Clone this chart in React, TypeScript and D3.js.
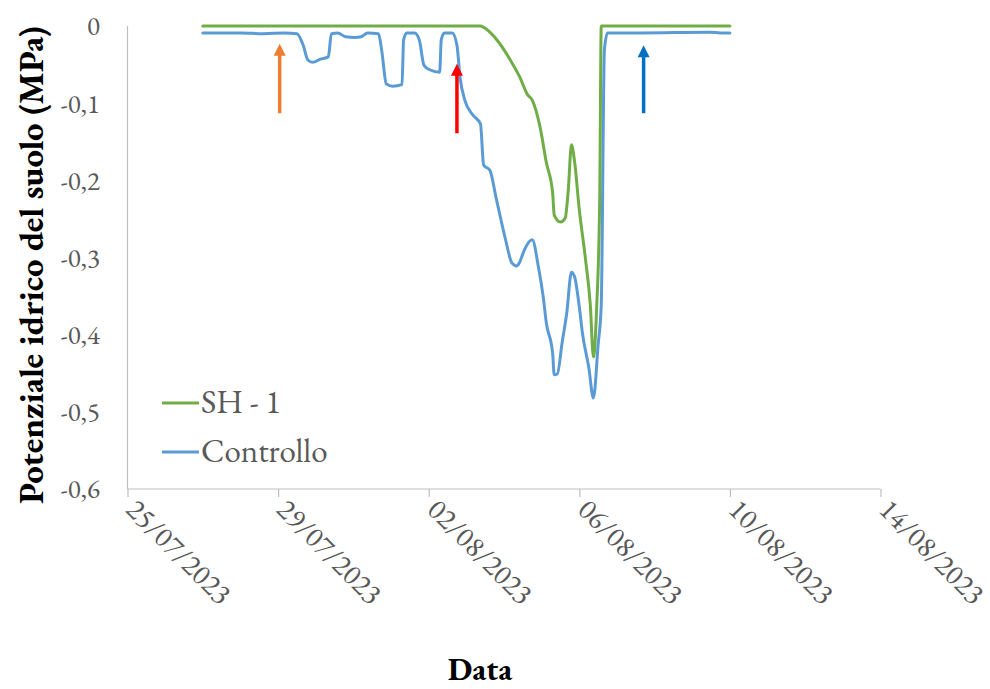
import React, { useEffect, useRef } from 'react';
import * as d3 from 'd3';

// Controllo (blue) series
const controlloTimes = [
  '27/07/2023 00:00', '28/07/2023 00:00', '28/07/2023 15:00', '29/07/2023 04:00', '29/07/2023 12:00',
  '29/07/2023 16:00', '29/07/2023 19:00', '29/07/2023 22:00', '30/07/2023 03:00', '30/07/2023 08:00',
  '30/07/2023 10:00', '30/07/2023 14:00', '30/07/2023 19:00', '31/07/2023 01:00', '31/07/2023 05:00',
  '31/07/2023 09:00', '31/07/2023 16:00', '31/07/2023 18:00', '31/07/2023 21:00', '01/08/2023 01:00',
  '01/08/2023 07:00', '01/08/2023 08:00', '01/08/2023 10:00', '01/08/2023 15:00', '01/08/2023 18:00',
  '01/08/2023 21:00', '02/08/2023 01:00', '02/08/2023 07:00', '02/08/2023 08:00', '02/08/2023 10:00',
  '02/08/2023 15:00', '02/08/2023 18:00', '02/08/2023 20:00', '02/08/2023 23:00', '03/08/2023 04:00',
  '03/08/2023 09:00', '03/08/2023 11:00', '03/08/2023 15:00', '03/08/2023 19:00', '04/08/2023 01:00',
  '04/08/2023 05:00', '04/08/2023 08:00', '04/08/2023 10:00', '04/08/2023 13:00', '04/08/2023 18:00',
  '04/08/2023 22:00', '05/08/2023 01:00', '05/08/2023 03:00', '05/08/2023 07:00', '05/08/2023 08:00',
  '05/08/2023 10:00', '05/08/2023 13:00', '05/08/2023 16:00', '05/08/2023 19:00', '05/08/2023 21:00',
  '06/08/2023 00:00', '06/08/2023 02:00', '06/08/2023 06:00', '06/08/2023 09:00', '06/08/2023 12:00',
  '06/08/2023 14:00', '06/08/2023 16:00', '06/08/2023 18:00', '07/08/2023 15:00', '09/08/2023 11:00',
  '09/08/2023 18:00', '10/08/2023 00:00'
];
const controlloValues = [
  -0.009, -0.009, -0.010, -0.009, -0.010,
  -0.025, -0.044, -0.047, -0.043, -0.040,
  -0.010, -0.009, -0.014, -0.015, -0.014,
  -0.009, -0.010, -0.031, -0.075, -0.078,
  -0.076, -0.018, -0.009, -0.009, -0.018,
  -0.051, -0.057, -0.060, -0.018, -0.009,
  -0.009, -0.025, -0.067, -0.096, -0.115,
  -0.127, -0.180, -0.187, -0.223, -0.277,
  -0.307, -0.311, -0.306, -0.290, -0.277,
  -0.313, -0.351, -0.385, -0.424, -0.452,
  -0.451, -0.411, -0.372, -0.319, -0.325,
  -0.364, -0.398, -0.442, -0.482, -0.413,
  -0.361, -0.031, -0.009, -0.009, -0.008,
  -0.009, -0.009
];

// SH - 1 (green) series
const sh1Times = [
  '27/07/2023 00:00', '03/08/2023 09:00', '03/08/2023 12:00', '03/08/2023 15:00', '03/08/2023 21:00',
  '04/08/2023 04:00', '04/08/2023 10:00', '04/08/2023 15:00', '04/08/2023 18:00', '04/08/2023 23:00',
  '05/08/2023 03:00', '05/08/2023 07:00', '05/08/2023 08:00', '05/08/2023 12:00', '05/08/2023 15:00',
  '05/08/2023 17:00', '05/08/2023 19:00', '05/08/2023 21:00', '06/08/2023 00:00', '06/08/2023 04:00',
  '06/08/2023 07:00', '06/08/2023 09:00', '06/08/2023 11:00', '06/08/2023 13:00', '06/08/2023 14:00',
  '10/08/2023 00:00'
];
const sh1Values = [
  0, 0, -0.003, -0.008, -0.022,
  -0.044, -0.066, -0.089, -0.096, -0.131,
  -0.177, -0.216, -0.245, -0.254, -0.249,
  -0.212, -0.154, -0.176, -0.238, -0.303,
  -0.361, -0.429, -0.368, -0.225, 0,
  0
];

const xTickLabels = ['25/07/2023', '29/07/2023', '02/08/2023', '06/08/2023', '10/08/2023', '14/08/2023'];
const yTicks = [0, -0.1, -0.2, -0.3, -0.4, -0.5, -0.6];

// annotation arrows
const arrowTimes = ['29/07/2023 01:00', '02/08/2023 18:00', '07/08/2023 17:00'];
const arrowTips = [-0.023, -0.049, -0.025];
const arrowTails = [-0.113, -0.139, -0.113];
const arrowColors = ['#ED7D31', '#FF0000', '#0070C0'];

const seriesNames = ['SH - 1', 'Controllo'];
const seriesColors = ['#70AD47', '#5B9BD5'];

const FONT = '"EB Garamond", Garamond, "Liberation Serif", serif';

export default function App() {
  const svgRef = useRef<SVGSVGElement>(null);
  const width = 990;
  const height = 689;

  useEffect(() => {
    if (!svgRef.current) return;
    const svg = d3.select(svgRef.current);
    svg.selectAll('*').remove();

    const parse = d3.timeParse('%d/%m/%Y %H:%M');
    const parseDay = d3.timeParse('%d/%m/%Y');
    const tickDates = xTickLabels.map(s => parseDay(s)!);

    const x = d3.scaleTime()
      .domain([tickDates[0], tickDates[tickDates.length - 1]])
      .range([127.5, 880.5]);
    const y = d3.scaleLinear().domain([0, -0.6]).range([26, 489]);

    // axes
    const xAxis = svg.append('g').attr('transform', `translate(0,${y(-0.6)})`)
      .call(d3.axisBottom(x).tickValues(tickDates).tickSize(8).tickFormat(() => ''));
    xAxis.selectAll('path, line').attr('stroke', '#BFBFBF').attr('stroke-width', 1.2);
    xAxis.select('.domain').attr('d', `M${x.range()[0]},0H${x.range()[1]}`);

    svg.append('line')
      .attr('x1', x.range()[0]).attr('x2', x.range()[0])
      .attr('y1', y(0)).attr('y2', y(-0.6))
      .attr('stroke', '#BFBFBF').attr('stroke-width', 1.2);

    // y tick labels
    svg.append('g').selectAll('text')
      .data(yTicks)
      .enter().append('text')
      .attr('x', 100)
      .attr('y', d => y(d))
      .attr('dy', '0.35em')
      .attr('text-anchor', 'end')
      .attr('font-family', FONT)
      .attr('font-size', 27)
      .attr('fill', '#595959')
      .text(d => (d === 0 ? '0' : d3.format('.1f')(d).replace('.', ',').replace('−', '-')));

    // x tick labels, rotated
    svg.append('g').selectAll('text')
      .data(tickDates)
      .enter().append('text')
      .attr('transform', d => `translate(${x(d) - 3},${y(-0.6) + 22}) rotate(45)`)
      .attr('text-anchor', 'start')
      .attr('font-family', FONT)
      .attr('font-size', 29)
      .attr('fill', '#595959')
      .text((d, i) => xTickLabels[i]);

    // axis titles
    svg.append('text')
      .attr('x', 480)
      .attr('y', 680)
      .attr('text-anchor', 'middle')
      .attr('font-family', FONT)
      .attr('font-size', 32)
      .attr('font-weight', 'bold')
      .attr('fill', '#000')
      .text('Data');

    svg.append('text')
      .attr('transform', `translate(43,265) rotate(-90)`)
      .attr('text-anchor', 'middle')
      .attr('font-family', FONT)
      .attr('font-size', 35)
      .attr('font-weight', 'bold')
      .attr('fill', '#000')
      .text('Potenziale idrico del suolo (MPa)');

    // lines
    const line = d3.line<[Date, number]>()
      .x(d => x(d[0]))
      .y(d => y(d[1]))
      .curve(d3.curveMonotoneX);

    const series: [Date, number][][] = [
      sh1Times.map((t, i) => [parse(t)!, sh1Values[i]]),
      controlloTimes.map((t, i) => [parse(t)!, controlloValues[i]])
    ];

    // draw controllo first, then green on top
    [1, 0].forEach(k => {
      svg.append('path')
        .datum(series[k])
        .attr('d', line)
        .attr('fill', 'none')
        .attr('stroke', seriesColors[k])
        .attr('stroke-width', 3)
        .attr('stroke-linejoin', 'round')
        .attr('stroke-linecap', 'round');
    });

    // arrows
    arrowTimes.forEach((t, i) => {
      const ax = x(parse(t)!);
      const tipY = y(arrowTips[i]);
      const tailY = y(arrowTails[i]);
      const headLen = 12;
      svg.append('line')
        .attr('x1', ax).attr('x2', ax)
        .attr('y1', tailY).attr('y2', tipY + headLen - 1)
        .attr('stroke', arrowColors[i])
        .attr('stroke-width', 3.5);
      svg.append('path')
        .attr('d', `M${ax},${tipY}L${ax + 6},${tipY + headLen}L${ax - 6},${tipY + headLen}Z`)
        .attr('fill', arrowColors[i]);
    });

    // legend
    const legend = svg.append('g');
    seriesNames.forEach((name, i) => {
      const ly = 403 + i * 49;
      legend.append('line')
        .attr('x1', 162).attr('x2', 199)
        .attr('y1', ly).attr('y2', ly)
        .attr('stroke', seriesColors[i])
        .attr('stroke-width', 3);
      legend.append('text')
        .attr('x', 201)
        .attr('y', ly + 10)
        .attr('font-family', FONT)
        .attr('font-size', 33)
        .attr('fill', '#595959')
        .text(name);
    });
  }, []);

  return (
    <div>
      <svg
        ref={svgRef}
        width={width}
        height={height}
        style={{ position: 'absolute', left: 0, top: 0, background: '#fff' }}
      />
    </div>
  );
}
